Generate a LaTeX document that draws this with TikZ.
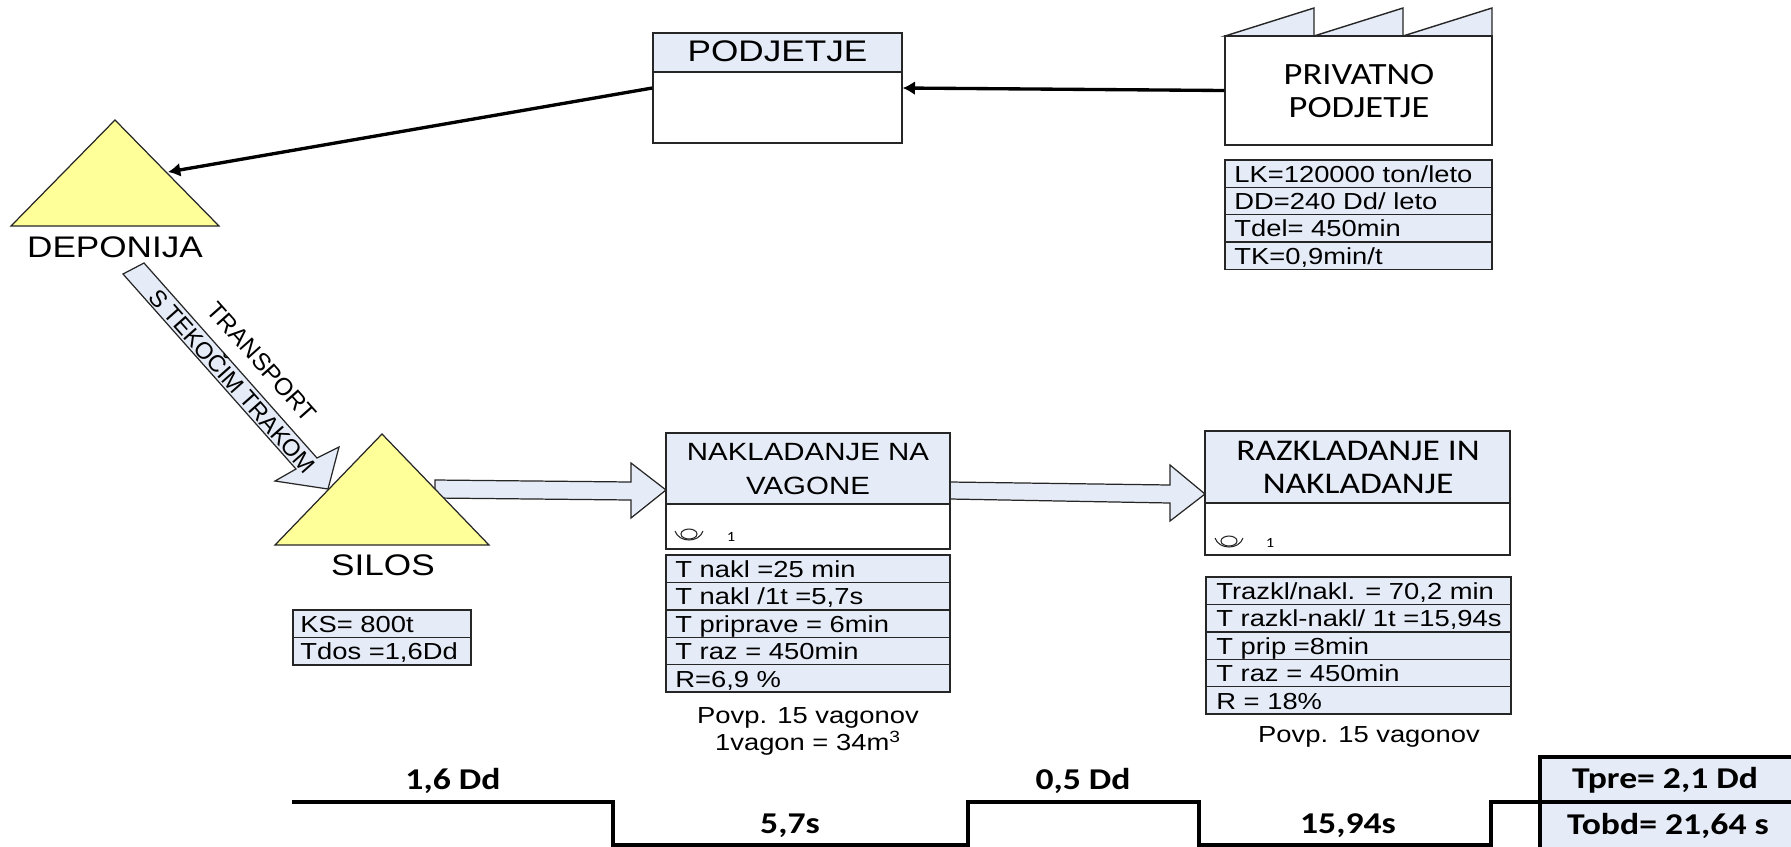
\documentclass[tikz,border=0pt]{standalone}
\usepackage{fontspec}
\usepackage{tikz}
\usetikzlibrary{arrows.meta, calc}
\newfontfamily\arialw[FakeStretch=1.18]{Liberation Sans}
\newfontfamily\arialn{Liberation Sans}
\newfontfamily\caliw[FakeStretch=1.18]{Carlito}
\definecolor{paleblue}{HTML}{E6ECF7}
\definecolor{paleyellow}{HTML}{FFFF99}
\tikzset{
  databox/.style={draw=black!85, line width=0.8pt, fill=paleblue},
  datatext/.style={anchor=mid west, inner sep=0pt, yshift=-2.8pt, font=\fontsize{13.2}{15}\arialw},
  headtext/.style={align=center, inner sep=0pt, font=\fontsize{17.1}{18.8}\caliw},
  bigtext/.style={inner sep=0pt, font=\fontsize{16.95}{19}\arialw},
  plaintext/.style={inner sep=0pt, align=center, font=\fontsize{13.2}{15.4}\arialw},
  slanttext/.style={inner sep=0pt, rotate=-48.4, font=\fontsize{13.4}{15}\arialn},
  timetext/.style={inner sep=0pt, font=\fontsize{17.2}{19}\bfseries\caliw},
  blockarrow/.style={draw=black!85, line width=0.7pt, fill=paleblue, line join=miter},
  mound/.style={draw=black!85, line width=0.7pt, fill=paleyellow},
  pushline/.style={line width=1.9pt, -{Latex[length=7pt,width=8pt]}},
  timeline/.style={line width=2pt},
  totalbox/.style={draw=black, line width=2.2pt, fill=paleblue},
  eyemark/.style={draw=black!85, line width=0.6pt},
}
\begin{document}
\begin{tikzpicture}[x=0.02cm, y=-0.02cm]
  \useasboundingbox (0,0) rectangle (1791,846);
  % factory
  \foreach \xa/\xb in {1225/1314,1314/1403,1403/1492}
    \draw[databox] (\xa,36) -- (\xb,8) -- (\xb,36) -- cycle;
  \node[draw=black!85, line width=0.8pt, fill=white, minimum width=5.34cm, minimum height=2.18cm, inner sep=0pt] (factory) at (1358.5,90.5) {};
  \node[headtext, font=\fontsize{17.6}{18.8}\caliw] (factorytext) at (1359,91) {PRIVATNO\\PODJETJE};
  \foreach \yy/\txt in {160/{LK=120000 ton/leto},187.3/{DD=240 Dd/ leto},214.6/{Tdel= 450min},241.9/{TK=0,9min/t}} {
    \draw[databox] (1225,\yy) rectangle (1492,\yy+27.3);
    \node[datatext] (lk\yy) at (1234,\yy+13.6) {\txt};
  }
  % company box
  \draw[databox] (653,33) rectangle (902,72);
  \node[draw=black!85, line width=0.8pt, minimum width=4.98cm, minimum height=2.2cm, inner sep=0pt] (company) at (777.5,88) {};
  \node[bigtext] (companytext) at (777.5,51) {PODJETJE};
  % dump
  \coordinate (dumpA) at (115,120);
  \coordinate (dumpB) at (11,226);
  \coordinate (dumpC) at (219,226);
  \coordinate (dumpIn) at (168,172);
  \draw[mound] (dumpA) -- (dumpB) -- (dumpC) -- cycle;
  \node[bigtext] (dumptext) at (115,247) {DEPONIJA};
  \draw[pushline] (factory.west) -- (company.east);
  \draw[pushline] (company.west) -- (dumpIn);
  % conveyor
  \draw[blockarrow] (123,274) -- (144,263) -- (317,458) -- (339,447) -- (328,489) -- (275,481) -- (296,469) -- cycle;
  \node[slanttext, font=\fontsize{13.9}{15}\arialn] (beltA) at (262,362) {TRANSPORT};
  \node[slanttext] (beltB) at (234,380) {S TEKOČIM TRAKOM};
  % push arrows
  \draw[blockarrow] (435,480) -- (631,482) -- (631,463) -- (666,490) -- (631,518) -- (631,500) -- (435,498) -- cycle;
  \draw[blockarrow] (950,482) -- (1170,485) -- (1170,465) -- (1205,494) -- (1170,521) -- (1170,503) -- (950,499) -- cycle;
  % silo
  \coordinate (siloA) at (382,434);
  \coordinate (siloB) at (275,545);
  \coordinate (siloC) at (489,545);
  \draw[mound] (siloA) -- (siloB) -- (siloC) -- cycle;
  \node[bigtext] (silotext) at (383,565) {SILOS};
  \foreach \yy/\txt in {610/{KS= 800t},637.5/{Tdos =1,6Dd}} {
    \draw[databox] (293,\yy) rectangle (471,\yy+27.5);
    \node[datatext] (ks\yy) at (300,\yy+13.7) {\txt};
  }
  % loading
  \draw[databox] (666,433) rectangle (950,504);
  \node[draw=black!85, line width=0.8pt, minimum width=5.68cm, minimum height=2.32cm, inner sep=0pt] (loading) at (808,491) {};
  \node[plaintext, font=\fontsize{14.2}{19.4}\arialw] (loadingtext) at (808,469) {NAKLADANJE NA\\VAGONE};
  \draw[eyemark] (689,534) ellipse (8 and 5);
  \draw[eyemark] (675,531) .. controls (679,543) and (699,543) .. (703,531);
  \node[inner sep=0pt, font=\fontsize{8}{9}\caliw] (loadingcount) at (731,537) {1};
  \foreach \yy/\txt in {555/{T nakl =25 min},582.4/{T nakl /1t =5,7s},609.8/{T priprave = 6min},637.2/{T raz = 450min},664.6/{R=6,9 \%}} {
    \draw[databox] (666,\yy) rectangle (950,\yy+27.4);
    \node[datatext] (nakl\yy) at (675,\yy+13.7) {\txt};
  }
  \node[plaintext] (loadingnote) at (808,731) {Povp. 15 vagonov\\1vagon = 34m\textsuperscript{3}};
  % reloading
  \draw[databox] (1205,431) rectangle (1510,503);
  \node[draw=black!85, line width=0.8pt, minimum width=6.1cm, minimum height=2.48cm, inner sep=0pt] (reload) at (1357.5,493) {};
  \node[headtext] (reloadtext) at (1358,467) {RAZKLADANJE IN\\NAKLADANJE};
  \draw[eyemark] (1229,541) ellipse (8 and 5);
  \draw[eyemark] (1215,538) .. controls (1219,550) and (1239,550) .. (1243,538);
  \node[inner sep=0pt, font=\fontsize{8}{9}\caliw] (reloadcount) at (1270,543) {1};
  \foreach \yy/\txt in {577/{Trazkl/nakl. = 70,2 min},604.4/{T razkl-nakl/ 1t =15,94s},631.8/{T prip =8min},659.2/{T raz = 450min},686.6/{R = 18\%}} {
    \draw[databox] (1206,\yy) rectangle (1511,\yy+27.4);
    \node[datatext] (raz\yy) at (1216,\yy+13.7) {\txt};
  }
  \node[plaintext] (reloadnote) at (1369,737) {Povp. 15 vagonov};
  % time line
  \draw[timeline] (292,802) -- (613,802) -- (613,845) -- (968,845) -- (968,802) -- (1199,802) -- (1199,845) -- (1491,845) -- (1491,802) -- (1540,802);
  \draw[totalbox] (1540,757) rectangle (1800,802);
  \draw[totalbox] (1540,802) rectangle (1800,852);
  \node[timetext] (timeA) at (453,781) {1,6 Dd};
  \node[timetext] (timeB) at (790,826) {5,7s};
  \node[timetext] (timeC) at (1083,781) {0,5 Dd};
  \node[timetext] (timeD) at (1348,826) {15,94s};
  \node[timetext] (totalA) at (1665,780) {Tpre= 2,1 Dd};
  \node[timetext] (totalB) at (1668,826) {Tobd= 21,64 s};
\end{tikzpicture}
\end{document}
